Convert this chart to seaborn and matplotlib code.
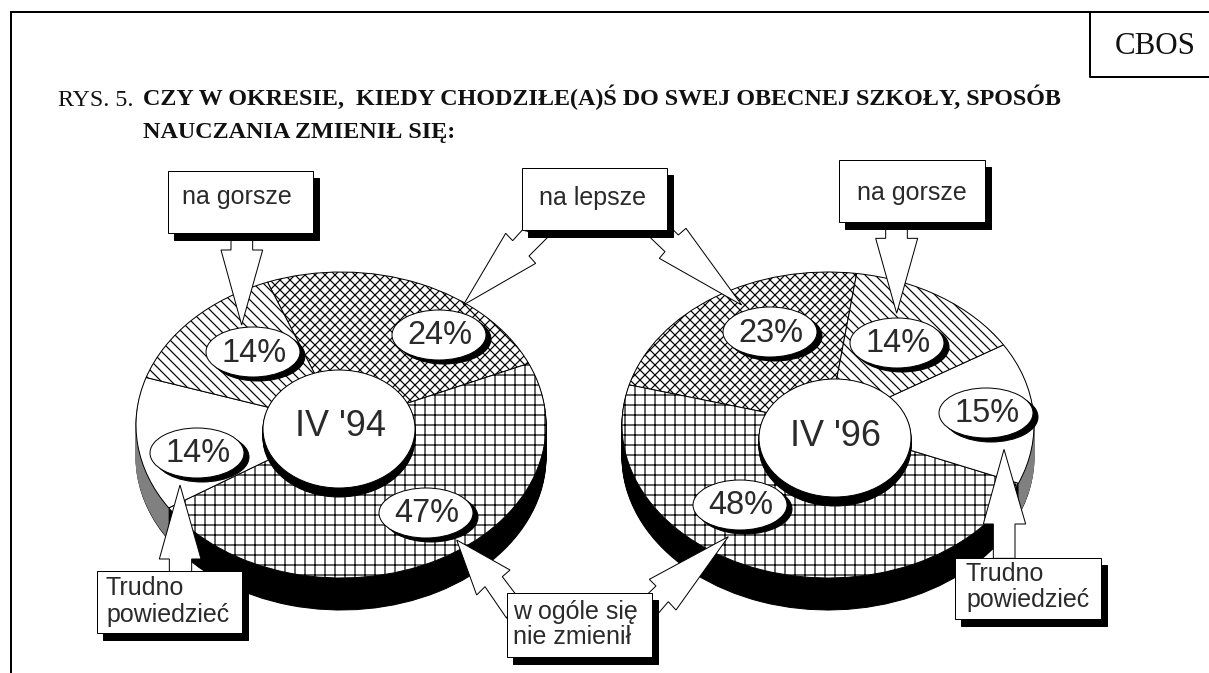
import matplotlib
matplotlib.use("Agg")
import matplotlib.pyplot as plt
from matplotlib.patches import Ellipse, Polygon, Rectangle
import seaborn as sns

# ---------- data ----------
categories = ["na lepsze", "w ogóle się nie zmienił", "Trudno powiedzieć", "na gorsze"]
waves = ["IV '94", "IV '96"]
values_94 = [24, 47, 14, 14]
values_96 = [23, 48, 15, 14]
hatches = ["xx", "+", None, "\\\\"]
title_prefix = "RYS. 5."
title_line1 = "CZY W OKRESIE,  KIEDY CHODZIŁE(A)Ś DO SWEJ OBECNEJ SZKOŁY, SPOSÓB"
title_line2 = "NAUCZANIA ZMIENIŁ SIĘ:"
source = "CBOS"

# ---------- page setup ----------
W, H = 1209, 673
DPI = 60
PX = 72 / DPI  # points per pixel
sns.set_theme(style="white", rc={"hatch.linewidth": 1.2 * PX, "axes.edgecolor": "black"})
plt.rcParams["font.family"] = ["Liberation Sans", "DejaVu Sans"]
INK = "#2a2a2a"
side_colors = ["black", "black", "#808080", "black"]

fig = plt.figure(figsize=(W / DPI, H / DPI), dpi=DPI, facecolor="white")


def draw_pie(values, cx, cy, rx, ry, depth, start, ccw):
    ax = fig.add_axes([(cx - 1.25 * rx) / W, 1 - (cy + 1.25 * ry) / H,
                       2.5 * rx / W, 2.5 * ry / H], zorder=1)
    for k in range(depth, 0, -1):
        wedges, _ = ax.pie(values, colors=side_colors, startangle=start, counterclock=ccw,
                           center=(0, -k / ry), radius=1,
                           wedgeprops={"edgecolor": "black", "linewidth": 1.0 * PX})
        if k != depth:
            for w, c in zip(wedges, side_colors):
                w.set_edgecolor(c)
    ax.pie(values, colors=["white"] * len(values), hatch=hatches, startangle=start,
           counterclock=ccw, center=(0, 0), radius=1,
           wedgeprops={"edgecolor": "black", "linewidth": 1.0 * PX})
    ax.set_aspect("auto")
    ax.set_xlim(-1.25, 1.25)
    ax.set_ylim(-1.25, 1.25)
    ax.axis("off")


draw_pie(values_94, 341, 425, 205, 153, 32, 111, False)
draw_pie(values_96, 828, 425, 206, 153, 32, 82, True)

# ---------- overlay in pixel coordinates ----------
ov = fig.add_axes([0, 0, 1, 1], zorder=2)
ov.set_xlim(0, W)
ov.set_ylim(H, 0)
ov.axis("off")
ov.patch.set_alpha(0)
LW = 1.0 * PX


def txt(x, y, s, size, ha="center", va="center", **kw):
    kw.setdefault("color", INK)
    ov.text(x, y, s, fontsize=size * PX, ha=ha, va=va, zorder=20, **kw)


def bubble(cx, cy, rx, ry, dx, dy, label=None, size=32.5, tx=0, ty=0, z=10):
    ov.add_patch(Ellipse((cx + dx, cy + dy), 2 * rx, 2 * ry, fc="black", ec="black", lw=LW, zorder=z))
    ov.add_patch(Ellipse((cx, cy), 2 * rx, 2 * ry, fc="white", ec="black", lw=LW, zorder=z + 0.1))
    if label:
        txt(cx + tx, cy + ty, label, size)


# hubs: cylinder with a dark side
for (cx, cy), w in zip([(339, 429), (835, 438)], waves):
    for k in range(9, 0, -1):
        ov.add_patch(Ellipse((cx, cy + k), 152, 118, fc="black", ec="black", lw=LW, zorder=4))
    ov.add_patch(Ellipse((cx, cy), 152, 118, fc="white", ec="black", lw=LW, zorder=5))
    txt(cx + 1, cy - 2, w, 36)

# percent bubbles, in the order of categories
spots_94 = [(439, 335), (426, 513), (197, 453), (253, 352)]
spots_96 = [(770, 332), (740, 505), (986, 413), (897, 343)]
for values, spots in ((values_94, spots_94), (values_96, spots_96)):
    for v, (cx, cy) in zip(values, spots):
        bubble(cx, cy, 47, 25, 5, 4, f"{v}%", tx=1, ty=1)


def arrow(points, ox, oy):
    xy = [(ox + x / 3, oy + y / 3) for x, y in points]
    ov.add_patch(Polygon(xy, closed=True, fc="white", ec="black", lw=LW, zorder=12, joinstyle="miter"))


# arrow outlines measured on a 3x crop with origin (ox, oy)
L = (120, 170)
R = (600, 170)
arrow([(333, 205), (333, 240), (303, 240), (365, 465), (428, 240), (398, 240), (398, 205)], *L)
arrow([(1207, 180), (1178, 212), (1157, 190), (1030, 405), (1247, 280), (1227, 258), (1285, 200)], *L)
arrow([(148, 200), (195, 245), (178, 265), (425, 405), (258, 175), (235, 195), (220, 180)], *R)
arrow([(857, 175), (857, 205), (827, 205), (890, 430), (953, 205), (922, 205), (922, 175)], *R)
arrow([(1160, 1345), (1095, 1250), (1070, 1275), (1010, 1110), (1170, 1200), (1147, 1220), (1185, 1270)], *L)
arrow([(175, 1330), (205, 1295), (228, 1320), (385, 1100), (148, 1228), (168, 1248), (145, 1270)], *R)
arrow([(148, 1205), (148, 1167), (118, 1167), (180, 945), (243, 1167), (215, 1167), (215, 1205)], *L)
arrow([(1180, 1165), (1180, 1062), (1150, 1062), (1212, 838), (1277, 1062), (1245, 1062), (1245, 1165)], *R)


def box(x0, y0, x1, y1, lines, tx, tys, dx=6, dy=7):
    ov.add_patch(Rectangle((x0 + dx, y0 + dy), x1 - x0, y1 - y0, fc="black", ec="black", lw=LW, zorder=14))
    ov.add_patch(Rectangle((x0, y0), x1 - x0, y1 - y0, fc="white", ec="black", lw=LW, zorder=15))
    for s, ty in zip(lines, tys):
        txt(tx, ty, s, 25, ha="left")


box(168, 171, 313, 233, ["na gorsze"], 182, [197])
box(522, 168, 667, 230, ["na lepsze"], 539, [198])
box(839, 160, 985, 222, ["na gorsze"], 857, [193])
box(97, 571, 242, 633, ["Trudno", "powiedzieć"], 106, [588, 615])
box(507, 593, 652, 657, ["w ogóle się", "nie zmienił"], 513, [612, 637])
box(955, 558, 1101, 619, ["Trudno", "powiedzieć"], 966, [574, 600])

# page frame and source box
ov.plot([11, 11], [673, 12], color="black", lw=2 * PX, solid_capstyle="butt", zorder=1)
ov.plot([10, 1209], [12, 12], color="black", lw=2 * PX, solid_capstyle="butt", zorder=1)
ov.plot([1090, 1090, 1209], [12, 77, 77], color="black", lw=2 * PX, solid_capstyle="butt", zorder=1)
serif = ["Liberation Serif", "DejaVu Serif"]
txt(1155, 54, source, 31, va="baseline", family=serif, color="#111111")

# title
txt(58, 105.5, title_prefix, 24, ha="left", va="baseline", family=serif, color="#111111")
txt(143, 105.5, title_line1, 24.1, ha="left", va="baseline", family=serif, weight="bold", color="#111111")
txt(143, 138, title_line2, 24.1, ha="left", va="baseline", family=serif, weight="bold", color="#111111")

fig.savefig("out.png", dpi=DPI, facecolor="white")
